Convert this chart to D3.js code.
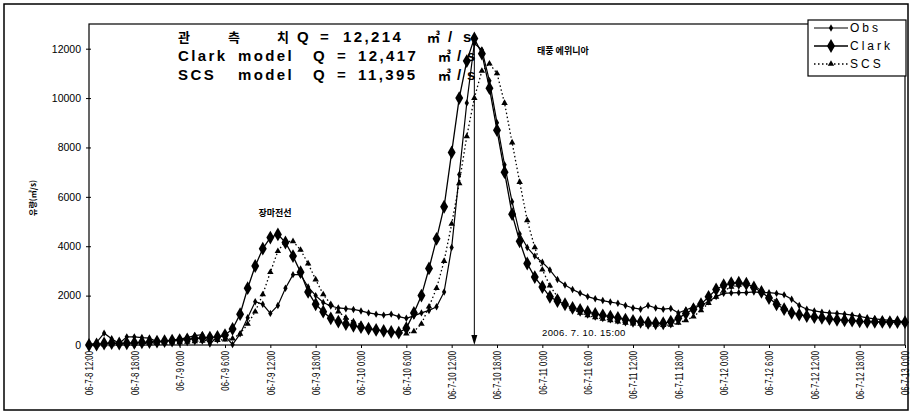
<!DOCTYPE html>
<html>
<head>
<meta charset="utf-8">
<script src="https://cdn.jsdelivr.net/npm/d3@7"></script>
<style>
body{margin:0;background:#fff;}
text{font-family:"Liberation Sans",Arial,sans-serif;fill:#000;}
.kr{font-family:"Noto Sans CJK KR","Liberation Sans",sans-serif;}
</style>
</head>
<body>
<div id="canvas"></div>
<script>
// hourly discharge, 06-7-8 12:00 .. 06-7-13 0:00 (m3/s)
var obs = [0,100,480,250,60,330,330,300,280,130,150,200,240,300,380,420,40,340,360,20,
  450,1100,1750,1650,1280,1600,2300,2850,2850,2350,2000,1720,1580,1500,1470,1440,1380,1300,1250,1210,
  1250,1150,1080,1180,1300,1400,1550,2150,3950,6900,9800,12214,11950,10700,9000,7300,5800,4500,3950,3600,
  3350,3040,2650,2430,2250,2100,1960,1870,1800,1740,1690,1600,1500,1450,1600,1500,1450,1480,1300,1420,
  1550,1620,1750,1960,2090,2110,2120,2120,2150,2120,2120,2090,2030,1850,1600,1450,1380,1330,1300,1280,
  1250,1210,1160,1100,1060,1030,1000,980,940];
var clark = [0,20,60,80,60,70,90,110,120,140,160,180,200,230,260,290,300,330,400,650,
  1250,2300,3200,3900,4350,4480,4150,3600,2950,2150,1650,1350,1080,950,850,780,720,660,610,570,
  530,500,680,1300,2000,3100,4300,5600,7800,10000,11500,12417,11800,10400,8700,7000,5300,4200,3300,2750,
  2350,1950,1780,1650,1500,1420,1340,1260,1200,1150,1100,1030,980,940,900,880,880,950,1080,1280,
  1450,1650,1950,2250,2420,2500,2520,2480,2330,2150,1900,1650,1450,1300,1230,1170,1130,1100,1060,1020,
  1000,985,960,940,940,935,930,930,925];
var scs = [0,0,10,20,30,40,50,60,70,80,90,100,110,130,150,170,190,200,220,260,
  450,850,1350,2050,2950,3800,4200,4200,3850,3300,2650,2050,1650,1350,1100,950,820,720,650,590,
  540,500,460,550,850,1550,2300,3400,4900,6550,8450,10000,11100,11395,11000,9800,8200,6600,5050,3950,
  3050,2400,1950,1650,1450,1300,1200,1120,1060,1000,950,900,870,850,820,810,800,810,900,1000,
  1150,1400,1700,1950,2200,2350,2430,2450,2380,2220,2000,1750,1520,1350,1250,1180,1120,1080,1040,1010,
  990,970,950,940,930,920,915,910,905];

var xLabels = ['06-7-8 12:00','06-7-8 18:00','06-7-9 0:00','06-7-9 6:00','06-7-9 12:00','06-7-9 18:00',
  '06-7-10 0:00','06-7-10 6:00','06-7-10 12:00','06-7-10 18:00','06-7-11 0:00','06-7-11 6:00',
  '06-7-11 12:00','06-7-11 18:00','06-7-12 0:00','06-7-12 6:00','06-7-12 12:00','06-7-12 18:00','06-7-13 0:00'];
var labelStep = 6;
var yTicks = [0,2000,4000,6000,8000,10000,12000];
var peakHour = 51;

var W = 912, H = 419;
var m = {t:24, r:7, b:74, l:89};

var svg = d3.select('#canvas').append('svg')
  .attr('width', W).attr('height', H);

// outer frame
svg.append('rect').attr('x',4).attr('y',4).attr('width',904).attr('height',406)
  .attr('fill','none').attr('stroke','#000').attr('stroke-width',1.5);

var x = d3.scaleLinear().domain([0, obs.length-1]).range([m.l, W - m.r]);
var y = d3.scaleLinear().domain([0, 13000]).range([H - m.b, m.t]);

// plot area
svg.append('rect').attr('x',x(0)).attr('y',y(13000))
  .attr('width',x(obs.length-1)-x(0)).attr('height',y(0)-y(13000))
  .attr('fill','none').attr('stroke','#000').attr('stroke-width',1.2);

// y axis
var yAxis = d3.axisLeft(y).tickValues(yTicks).tickSize(4).tickFormat(d3.format('d'));
var gy = svg.append('g').attr('transform','translate('+x(0)+',0)').call(yAxis);
gy.select('.domain').remove();
gy.selectAll('text').style('font-size','10.5px').attr('x',-8);
gy.selectAll('line').attr('x2',-3).attr('x1',2).attr('stroke','#000');

// x axis
var xAxis = d3.axisBottom(x)
  .tickValues(xLabels.map(function(d,i){ return i*labelStep; }))
  .tickSize(3)
  .tickFormat(function(d){ return xLabels[d/labelStep]; });
var gx = svg.append('g').attr('transform','translate(0,'+y(0)+')').call(xAxis);
gx.select('.domain').remove();
gx.selectAll('text')
  .attr('text-anchor','end')
  .attr('x',0).attr('y',0).attr('dy','0.35em')
  .attr('transform','translate(0,6) rotate(-90) scale(0.74,1)')
  .style('font-size','10.5px');

// y title
svg.append('text').attr('class','kr')
  .attr('transform','translate(33,198) rotate(-90)')
  .attr('text-anchor','middle').attr('dy','0.35em')
  .style('font-size','8px').style('font-weight','bold')
  .text('유량(㎥/s)');

// peak summary text
var summary = [
  {y:42, parts:[['관',178],['측',228],['치',277],['Q',297],['=',320],['12,214',343],['㎥',427],['/',448],['s',463]]},
  {y:61, parts:[['Clark',178],['model',238],['Q',313],['=',337],['12,417',358],['㎥',438],['/',457],['s',467]]},
  {y:80, parts:[['SCS',178],['model',238],['Q',313],['=',337],['11,395',358],['㎥',438],['/',457],['s',467]]}
];
summary.forEach(function(line){
  var t = svg.append('text').attr('y', line.y)
    .style('font-size','15px').style('font-weight','bold').style('letter-spacing','2.4px');
  line.parts.forEach(function(p){
    var kr = /[가-힣㎥]/.test(p[0]);
    t.append('tspan').attr('x',p[1])
      .attr('class', kr ? 'kr' : null)
      .style('font-size', kr ? '13px' : null)
      .style('letter-spacing', kr ? '0px' : null)
      .text(p[0]);
  });
});

// annotations
svg.append('text').attr('class','kr').attr('x',275).attr('y',216).attr('text-anchor','middle')
  .style('font-size','9px').style('font-weight','bold').text('장마전선');
svg.append('text').attr('class','kr').attr('x',537).attr('y',54)
  .style('font-size','9px').style('font-weight','bold').text('태풍 에위니아');
svg.append('text').attr('x',542).attr('y',336)
  .style('font-size','9.5px').style('letter-spacing','0.4px').text('2006. 7. 10. 15:00');

// peak arrow
svg.append('line').attr('x1',x(peakHour)).attr('x2',x(peakHour))
  .attr('y1',37).attr('y2',y(0)-8).attr('stroke','#000').attr('stroke-width',1);
svg.append('path')
  .attr('d','M'+(x(peakHour)-3)+','+(y(0)-10)+'L'+(x(peakHour)+3)+','+(y(0)-10)+'L'+x(peakHour)+','+y(0)+'Z')
  .attr('fill','#000');

// series
var series = [
  {name:'Obs', data:obs, width:1.2, dash:null, sym:d3.symbolDiamond, size:16},
  {name:'Clark', data:clark, width:1.3, dash:null, sym:d3.symbolDiamond, size:55},
  {name:'SCS', data:scs, width:1.3, dash:'1.5,2.5', sym:d3.symbolTriangle, size:18}
];
var line = d3.line().x(function(d,i){ return x(i); }).y(function(d){ return y(d); });

series.forEach(function(s){
  svg.append('path').datum(s.data)
    .attr('d', line)
    .attr('fill','none').attr('stroke','#000')
    .attr('stroke-width', s.width)
    .attr('stroke-dasharray', s.dash);
  svg.append('g').selectAll('path')
    .data(s.data).enter().append('path')
    .attr('transform', function(d,i){ return 'translate('+x(i)+','+y(d)+')'; })
    .attr('d', d3.symbol().type(s.sym).size(s.size))
    .attr('fill','#000');
});

// legend
var lg = svg.append('g').attr('transform','translate(808,20)');
lg.append('rect').attr('width',98).attr('height',56)
  .attr('fill','#fff').attr('stroke','#000').attr('stroke-width',1.2);
series.forEach(function(s,i){
  var ly = 8 + i*18;
  lg.append('line').attr('x1',6).attr('x2',40).attr('y1',ly).attr('y2',ly)
    .attr('stroke','#000').attr('stroke-width',s.width).attr('stroke-dasharray',s.dash);
  lg.append('path').attr('transform','translate(23,'+ly+')')
    .attr('d', d3.symbol().type(s.sym).size(s.size)).attr('fill','#000');
  lg.append('text').attr('x',42).attr('y',ly).attr('dy','0.35em')
    .style('font-size','12px').style('letter-spacing','3px').text(s.name);
});
</script>
</body>
</html>
